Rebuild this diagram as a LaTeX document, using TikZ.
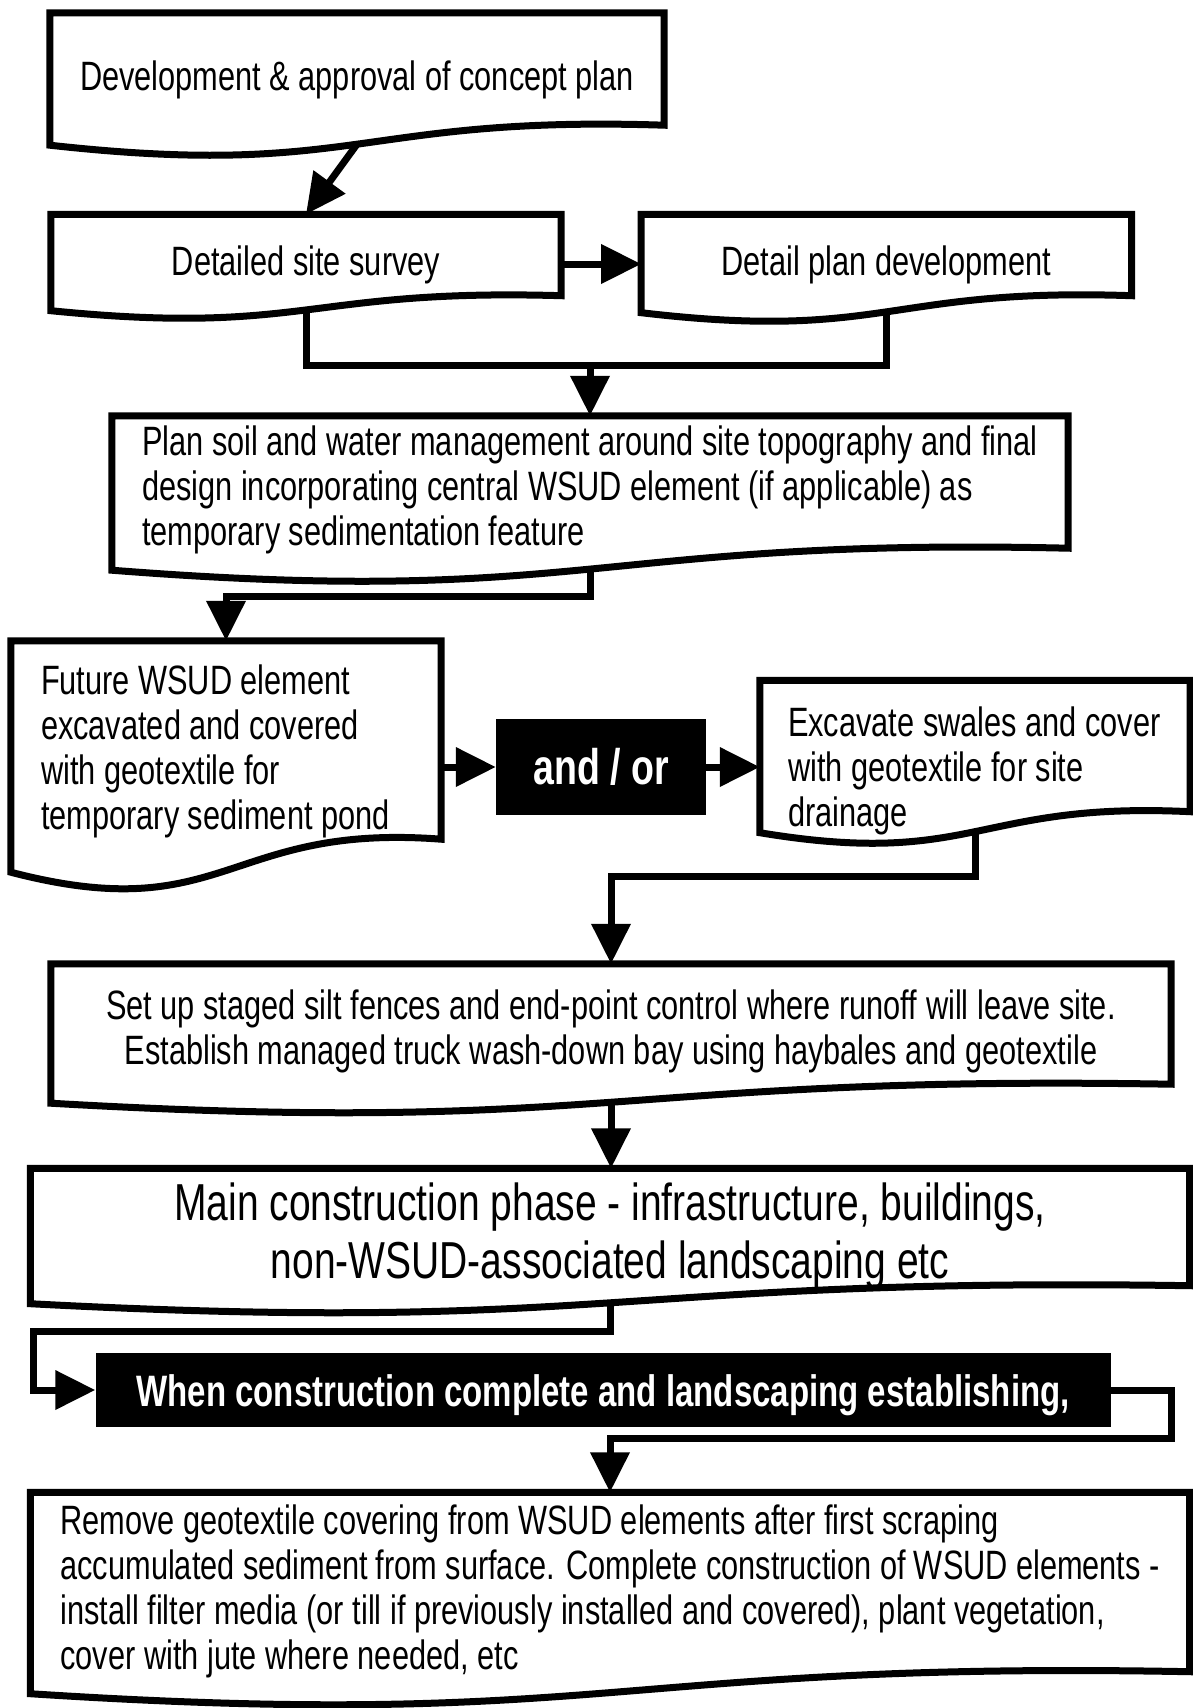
\documentclass[tikz,border=0pt]{standalone}
\usepackage{fontspec}
\setmainfont{Liberation Sans}[FakeStretch=0.75]
\usetikzlibrary{arrows.meta,calc,positioning}

\newcommand\docframe[2]{%
  \draw[frame] (#1.north west) -- (#1.north east) -- (#1.south east)
    .. controls ($(#1.south)+(0pt,#2*0.5pt)$) and ($(#1.south)+(0pt,-#2*2.7pt)$)
    .. ($(#1.south west)+(0pt,-#2pt)$) coordinate[pos=0.5] (#1-b) -- cycle;
}
\newcommand\sink[1]{\rule{0pt}{#1}}
\newcommand\tail[1]{\par\kern-#1\relax}

\begin{document}
\begin{tikzpicture}[
    x=1pt,y=-1pt,
    >={Triangle[length=40pt,width=38pt]},
    every node/.style={font=\fontsize{41}{45}\selectfont},
    doc/.style={rectangle,inner xsep=30pt,inner ysep=0pt},
    lft/.style={doc,align=flush left,execute at begin node={\spaceskip=0pt\xspaceskip=0pt}},
    ctr/.style={doc,align=center},
    dark/.style={rectangle,fill=black,text=white,inner sep=0pt},
    frame/.style={line width=7pt,line join=miter},
    link/.style={line width=7pt},
    flow/.style={->,line width=7pt}
  ]
    \useasboundingbox (0,0) rectangle (1193,1708);

    \node[ctr,minimum width=572pt,minimum height=112pt] (plan) at (357,69) {\sink{52pt}Development \& approval of concept plan};
    \node[ctr,minimum width=510pt,minimum height=81pt] (survey) at (306,255) {\sink{50pt}Detailed site survey};
    \node[ctr,minimum width=490pt,minimum height=81pt,right=80pt of survey] (detail) {\sink{50pt}Detail plan development};
    \node[lft,text width=896pt,minimum height=132pt] (soil) at (590,482)
      {Plan soil and water management around site topography and final\\
       design incorporating central WSUD element (if applicable) as\\
       temporary sedimentation feature\tail{16pt}};
    \node[lft,text width=370pt,minimum height=198pt] (pond) at (226,740)
      {Future WSUD element\\excavated and covered\\with geotextile for\\temporary sediment pond\tail{22pt}};
    \node[dark,minimum width=210pt,minimum height=96pt,font=\fontsize{50}{56}\selectfont\bfseries] (andor) at (601,767) {and / or};
    \node[lft,inner xsep=28pt,text width=374pt,minimum height=131pt] (swale) at (975,746)
      {Excavate swales and cover\\with geotextile for site\\drainage\tail{50pt}};
    \node[ctr,minimum width=1120pt,minimum height=120pt] (fence) at (611,1024)
      {\sink{45pt}Set up staged silt fences and end-point control where runoff will leave site.\\
       Establish managed truck wash-down bay using haybales and geotextile};
    \node[ctr,minimum width=1159pt,minimum height=117pt,inner ysep=-4pt,font=\fontsize{52}{58}\selectfont] (main) at (610,1227)
      {\sink{55pt}Main construction phase - infrastructure, buildings,\\non-WSUD-associated landscaping etc};
    \node[dark,minimum width=1015pt,minimum height=74pt,font=\fontsize{44}{50}\selectfont\bfseries] (when) at (603,1390)
      {\sink{42pt}When construction complete and landscaping establishing,};
    \node[lft,text width=1099pt,minimum height=179pt] (finish) at (610,1582)
      {Remove geotextile covering from WSUD elements after first scraping\\
       accumulated sediment from surface. Complete construction of WSUD elements -\\
       install filter media (or till if previously installed and covered), plant vegetation,\\
       cover with jute where needed, etc\tail{18pt}};

    \docframe{plan}{20}
    \docframe{survey}{15}
    \docframe{detail}{17}
    \docframe{soil}{22}
    \docframe{pond}{33}
    \docframe{swale}{21}
    \docframe{fence}{19}
    \docframe{main}{18}
    \docframe{finish}{22}

    \coordinate (j1) at ($(soil.north)+(0pt,50pt)$);
    \coordinate (j2) at ($(pond.north)+(0pt,44pt)$);
    \coordinate (j3) at ($(fence.north)+(0pt,87pt)$);
    \coordinate (j4) at (33,1331);
    \coordinate (j5) at (1171,1438);

    \draw[flow] (plan-b) -- (survey.north);
    \draw[flow] ([yshift=-9pt]survey.east) -- ([yshift=-9pt]detail.west);
    \draw[link] (survey-b) |- (j1) -| (detail-b);
    \draw[flow] (j1) -- (soil.north);
    \draw[flow] (soil-b) |- (j2) -- (pond.north);
    \draw[flow] (andor.west -| pond.east) -- (andor.west);
    \draw[flow] (andor.east) -- (andor.east -| swale.west);
    \draw[flow] (swale-b) |- (j3) -- (fence.north);
    \draw[flow] (fence-b) -- (fence-b |- main.north);
    \draw[flow] (main-b) |- (j4) |- (when.west);
    \draw[flow] (when.east) -| (j5) -| (finish.north);
  \end{tikzpicture}
\end{document}
